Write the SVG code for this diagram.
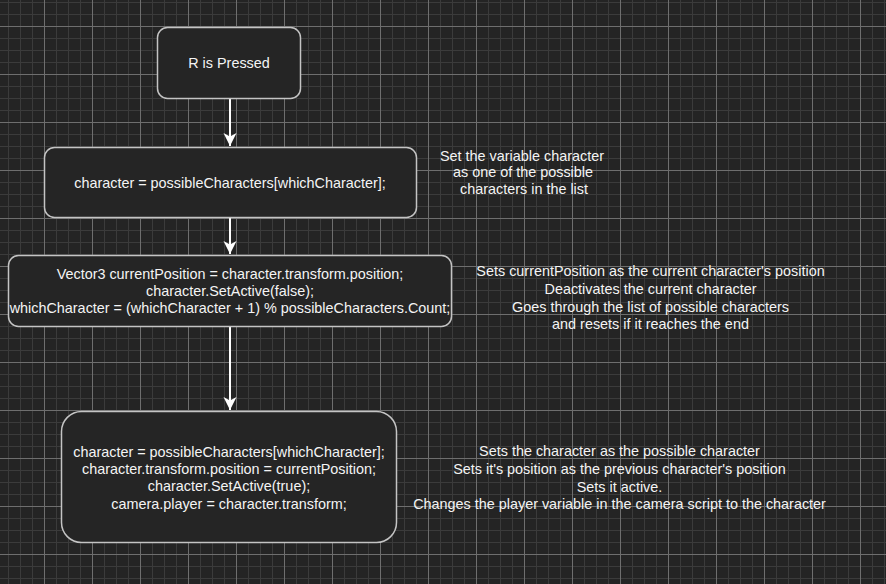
<svg xmlns="http://www.w3.org/2000/svg" width="886" height="584" viewBox="0 0 886 584">
<style>
.node{fill:#252525;stroke:#c4c4c4;stroke-width:1.5}
.t{font-family:"Liberation Sans",Arial,sans-serif;font-size:14.4px;fill:#f4f4f4;text-anchor:middle}
.edge{stroke:#ffffff;stroke-width:2;fill:none}
</style>
<defs>
<pattern id="minor" x="8" y="2" width="12" height="12" patternUnits="userSpaceOnUse">
<path d="M0.5 0V12M0 0.5H12" stroke="#3b3b3b" stroke-width="1" fill="none"/>
</pattern>
<pattern id="major" x="44" y="26" width="48" height="48" patternUnits="userSpaceOnUse">
<path d="M0.5 0V48M0 0.5H48" stroke="#6e6e6e" stroke-width="1" fill="none"/>
</pattern>
<marker id="arr" markerUnits="userSpaceOnUse" markerWidth="16" markerHeight="16" viewBox="0 0 16 16" refX="14" refY="8" orient="auto">
<path d="M1 1.5 L14 8 L1 14.5 L4.5 8 Z" fill="#ffffff"/>
</marker>
</defs>
<rect width="886" height="584" fill="#242424"/>
<rect width="886" height="584" fill="url(#minor)"/>
<rect width="886" height="584" fill="url(#major)"/>

<g id="connectors">
<path class="edge" d="M230 99 V146" marker-end="url(#arr)"/>
<path class="edge" d="M230 218 V254" marker-end="url(#arr)"/>
<path class="edge" d="M230 327 V410" marker-end="url(#arr)"/>
</g>

<g id="n1">
<rect class="node" x="157.5" y="27.5" width="143" height="71" rx="10"/>
<text class="t" x="229" y="67.5">R is Pressed</text>
</g>
<g id="n2">
<rect class="node" x="44.5" y="147.5" width="372" height="70" rx="10"/>
<text class="t" x="230" y="187.5">character = possibleCharacters[whichCharacter];</text>
</g>
<g id="n3">
<rect class="node" x="8.5" y="255.5" width="443" height="71" rx="10"/>
<text class="t" x="230" y="279">Vector3 currentPosition = character.transform.position;</text>
<text class="t" x="230" y="296">character.SetActive(false);</text>
<text class="t" x="230" y="313">whichCharacter = (whichCharacter + 1) % possibleCharacters.Count;</text>
</g>
<g id="n4">
<rect class="node" x="61.5" y="411.5" width="335" height="131" rx="20"/>
<text class="t" x="229" y="456.5">character = possibleCharacters[whichCharacter];</text>
<text class="t" x="229" y="473.5">character.transform.position = currentPosition;</text>
<text class="t" x="229" y="491">character.SetActive(true);</text>
<text class="t" x="229" y="508.5">camera.player = character.transform;</text>
</g>
<g id="a1">
<text class="t" x="522" y="160.5">Set the variable character</text>
<text class="t" x="523" y="177">as one of the possible</text>
<text class="t" x="524" y="193.5">characters in the list</text>
</g>
<g id="a2">
<text class="t" x="650.5" y="276">Sets currentPosition as the current character's position</text>
<text class="t" x="650.5" y="293.5">Deactivates the current character</text>
<text class="t" x="650.5" y="311.5">Goes through the list of possible characters</text>
<text class="t" x="650.5" y="328.5">and resets if it reaches the end</text>
</g>
<g id="a3">
<text class="t" x="619.5" y="456">Sets the character as the possible character</text>
<text class="t" x="619.5" y="473.5">Sets it's position as the previous character's position</text>
<text class="t" x="619.5" y="491.5">Sets it active.</text>
<text class="t" x="619.5" y="508.5">Changes the player variable in the camera script to the character</text>
</g>
</svg>
